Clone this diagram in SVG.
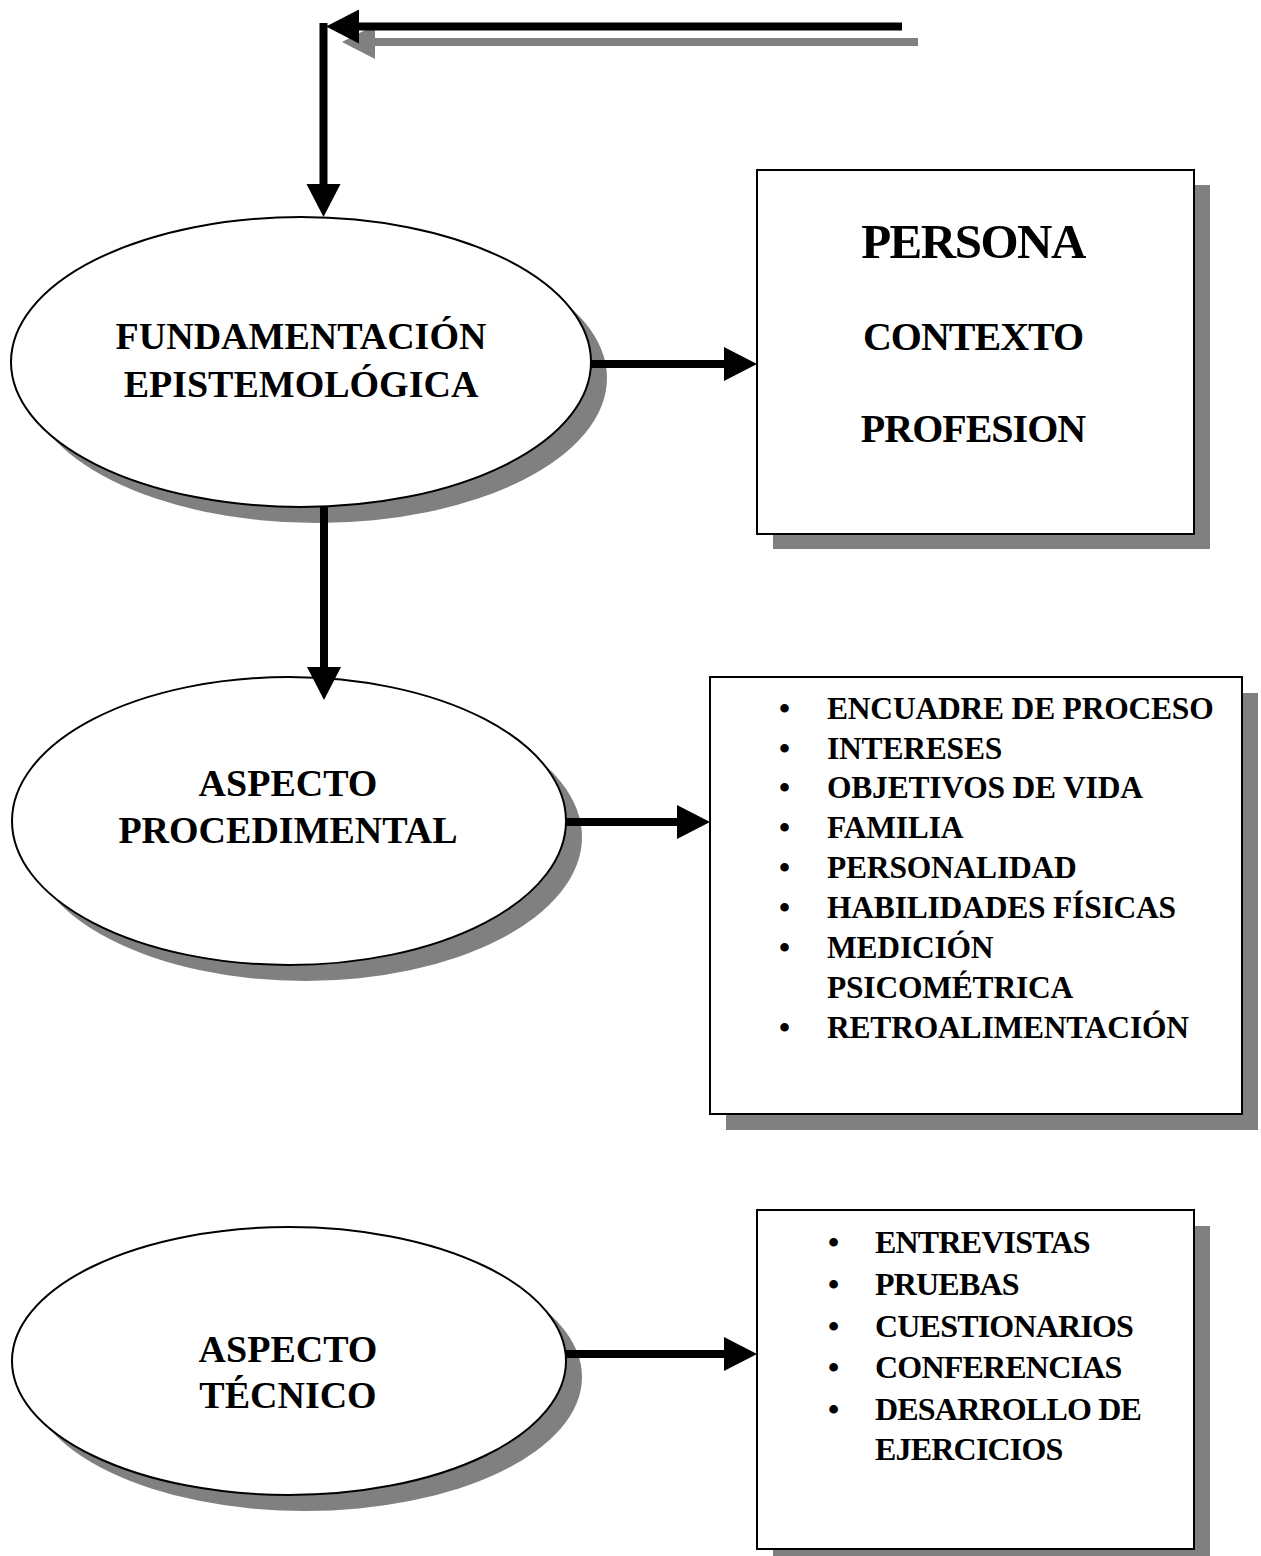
<svg xmlns="http://www.w3.org/2000/svg" width="1261" height="1556" viewBox="0 0 1261 1556">
<style>
  .shadow { fill: #808080; stroke: none; }
  .shape { fill: #ffffff; stroke: #000000; stroke-width: 2; }
  .t { font-family: "Liberation Serif", "Times New Roman", serif; font-weight: bold; fill: #000000; }
  .el { font-size: 38px; text-anchor: middle; }
  .li2 { font-size: 31.5px; letter-spacing: -0.2px; }
  .li3 { font-size: 32px; letter-spacing: -0.8px; }
  .conn { stroke: #000000; stroke-width: 8; fill: none; }
  .connS { stroke: #808080; stroke-width: 8; fill: none; }
</style>
<defs>
  <marker id="ah" markerUnits="userSpaceOnUse" markerWidth="34" markerHeight="36" viewBox="0 0 34 36" refX="1" refY="18" orient="auto">
    <path d="M0,1 L33,18 L0,35 Z" fill="#000000"/>
  </marker>
  <marker id="ahS" markerUnits="userSpaceOnUse" markerWidth="34" markerHeight="36" viewBox="0 0 34 36" refX="1" refY="18" orient="auto">
    <path d="M0,1 L33,18 L0,35 Z" fill="#808080"/>
  </marker>
</defs>
<rect width="1261" height="1556" fill="#ffffff"/>

<g id="node-fundamentacion">
  <ellipse class="shadow" cx="317" cy="378" rx="290" ry="145"/>
  <ellipse class="shape" cx="301" cy="362" rx="290" ry="145"/>
  <text class="t el" x="301" y="349">FUNDAMENTACIÓN</text>
  <text class="t el" x="301" y="397">EPISTEMOLÓGICA</text>
</g>

<g id="node-persona">
  <rect class="shadow" x="773" y="185" width="437" height="364"/>
  <rect class="shape" x="757" y="170" width="437" height="364"/>
  <text class="t" x="973" y="258" font-size="49" letter-spacing="-1.5" text-anchor="middle">PERSONA</text>
  <text class="t" x="973" y="350" font-size="40" letter-spacing="-1" text-anchor="middle">CONTEXTO</text>
  <text class="t" x="973" y="442" font-size="40" letter-spacing="-1" text-anchor="middle">PROFESION</text>
</g>

<g id="node-procedimental">
  <ellipse class="shadow" cx="305" cy="837" rx="277" ry="144"/>
  <ellipse class="shape" cx="289" cy="821" rx="277" ry="144"/>
  <text class="t el" x="288" y="796">ASPECTO</text>
  <text class="t el" x="288" y="843">PROCEDIMENTAL</text>
</g>

<g id="node-lista-procedimental">
  <rect class="shadow" x="726" y="693" width="532" height="437"/>
  <rect class="shape" x="710" y="677" width="532" height="437"/>
  <g class="t li2">
    <text x="779" y="719">•</text><text x="827" y="719">ENCUADRE DE PROCESO</text>
    <text x="779" y="759">•</text><text x="827" y="759">INTERESES</text>
    <text x="779" y="798">•</text><text x="827" y="798">OBJETIVOS DE VIDA</text>
    <text x="779" y="838">•</text><text x="827" y="838">FAMILIA</text>
    <text x="779" y="878">•</text><text x="827" y="878">PERSONALIDAD</text>
    <text x="779" y="918">•</text><text x="827" y="918">HABILIDADES FÍSICAS</text>
    <text x="779" y="958">•</text><text x="827" y="958">MEDICIÓN</text>
    <text x="827" y="998">PSICOMÉTRICA</text>
    <text x="779" y="1038">•</text><text x="827" y="1038">RETROALIMENTACIÓN</text>
  </g>
</g>

<g id="node-tecnico">
  <ellipse class="shadow" cx="305" cy="1377" rx="277" ry="134"/>
  <ellipse class="shape" cx="289" cy="1361" rx="277" ry="134"/>
  <text class="t el" x="288" y="1362">ASPECTO</text>
  <text class="t el" x="288" y="1408">TÉCNICO</text>
</g>

<g id="node-lista-tecnico">
  <rect class="shadow" x="773" y="1226" width="437" height="340"/>
  <rect class="shape" x="757" y="1210" width="437" height="339"/>
  <g class="t li3">
    <text x="828" y="1253">•</text><text x="875" y="1253">ENTREVISTAS</text>
    <text x="828" y="1295">•</text><text x="875" y="1295">PRUEBAS</text>
    <text x="828" y="1337">•</text><text x="875" y="1337">CUESTIONARIOS</text>
    <text x="828" y="1378">•</text><text x="875" y="1378">CONFERENCIAS</text>
    <text x="828" y="1420">•</text><text x="875" y="1420">DESARROLLO DE</text>
    <text x="875" y="1460">EJERCICIOS</text>
  </g>
</g>

<g id="connectors">
  <line class="connS" x1="918" y1="42" x2="374" y2="42" marker-end="url(#ahS)"/>
  <line class="conn" x1="902" y1="26.5" x2="358" y2="26.5" marker-end="url(#ah)"/>
  <line class="conn" x1="323.5" y1="23" x2="323.5" y2="185" marker-end="url(#ah)"/>
  <line class="conn" x1="591" y1="364" x2="725" y2="364" marker-end="url(#ah)"/>
  <line class="conn" x1="324" y1="507" x2="324" y2="668" marker-end="url(#ah)"/>
  <line class="conn" x1="566" y1="822" x2="678" y2="822" marker-end="url(#ah)"/>
  <line class="conn" x1="566" y1="1354" x2="725" y2="1354" marker-end="url(#ah)"/>
</g>
</svg>
